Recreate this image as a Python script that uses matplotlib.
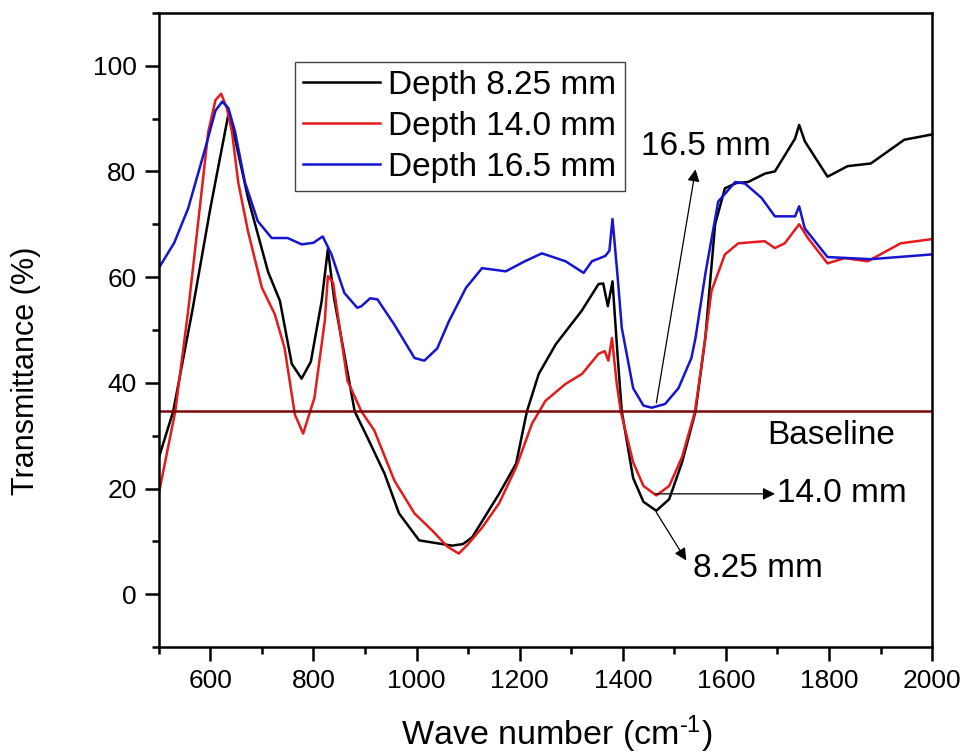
import matplotlib
matplotlib.use("Agg")
import matplotlib.pyplot as plt

plt.rcParams['font.family'] = ['Liberation Sans', 'DejaVu Sans']
plt.rcParams['mathtext.default'] = 'regular'
plt.rcParams['mathtext.fontset'] = 'custom'
plt.rcParams['mathtext.rm'] = 'Liberation Sans'

# ---- data ----
x_825 = [500, 528, 565, 600, 636, 648, 673, 712, 735, 758, 777, 795, 816, 828, 840, 855,
         880, 905, 938, 966, 1005, 1069, 1090, 1108, 1160, 1193, 1214, 1237, 1270, 1320,
         1353, 1362, 1371, 1380, 1390, 1398, 1420, 1440, 1465, 1490, 1515, 1541, 1560,
         1579, 1598, 1620, 1643, 1676, 1695, 1734, 1742, 1753, 1797, 1836, 1881, 1946, 2000]
y_825 = [25.8, 34.6, 53.6, 73.0, 91.3, 86.2, 75.0, 61.0, 55.5, 43.6, 40.8, 44.0, 55.5, 65.3, 56.0, 48.0,
         34.6, 29.6, 22.8, 15.3, 10.2, 9.2, 9.5, 10.8, 19.0, 24.7, 34.6, 41.7, 47.3, 53.6,
         58.7, 58.8, 54.5, 59.2, 45.0, 34.6, 22.0, 17.5, 15.8, 18.0, 25.0, 34.6, 48.5,
         70.0, 76.8, 77.8, 78.0, 79.6, 80.0, 86.2, 88.8, 85.7, 79.0, 81.0, 81.5, 86.0, 87.0]

x_140 = [500, 532, 557, 576, 596, 610, 621, 632, 642, 654, 673, 700, 725, 744, 764, 780, 802,
         822, 828, 838, 847, 866, 893, 918, 957, 996, 1031, 1060, 1082, 1100, 1127, 1160,
         1193, 1224, 1250, 1289, 1321, 1353, 1365, 1372, 1379, 1388, 1396, 1420, 1440, 1465,
         1490, 1515, 1540, 1560, 1572, 1598, 1624, 1675, 1695, 1714, 1742, 1759, 1797, 1830,
         1875, 1939, 2000]
y_140 = [19.0, 34.6, 53.6, 70.0, 87.5, 93.5, 94.7, 92.0, 87.5, 78.0, 68.7, 58.0, 53.0, 46.6, 34.0, 30.4, 37.2,
         51.7, 60.2, 59.0, 53.0, 40.4, 34.6, 31.0, 21.5, 15.3, 12.0, 9.0, 7.7, 9.5, 12.6, 17.2,
         24.0, 32.3, 36.6, 39.8, 41.7, 45.5, 46.0, 44.2, 48.5, 40.0, 34.6, 25.0, 20.5, 18.7,
         20.5, 26.0, 34.6, 48.5, 57.4, 64.3, 66.4, 66.8, 65.5, 66.4, 70.0, 67.4, 62.6, 63.6,
         63.0, 66.4, 67.2]

x_165 = [500, 530, 557, 590, 610, 623, 635, 648, 667, 692, 719, 750, 777, 800, 818, 835, 860,
         885, 893, 910, 924, 957, 996, 1015, 1040, 1063, 1096, 1127, 1173, 1210, 1243, 1289,
         1324, 1340, 1366, 1374, 1380, 1390, 1398, 1420, 1440, 1456, 1482, 1508, 1533, 1541,
         1560, 1585, 1618, 1637, 1669, 1695, 1734, 1742, 1753, 1797, 1881, 2000]
y_165 = [61.7, 66.5, 73.0, 84.3, 91.5, 93.2, 92.0, 87.5, 78.0, 70.6, 67.4, 67.4, 66.2, 66.5, 67.7, 64.3, 57.0,
         54.2, 54.5, 56.0, 55.8, 51.0, 44.7, 44.2, 46.5, 51.7, 58.0, 61.7, 61.1, 63.0, 64.5, 63.0,
         60.8, 63.0, 64.0, 65.0, 71.0, 60.0, 50.4, 39.0, 35.7, 35.3, 36.0, 39.0, 44.7, 48.5,
         60.6, 74.3, 78.0, 77.7, 75.0, 71.5, 71.5, 73.4, 69.2, 63.8, 63.4, 64.3]

baseline = 34.6
labels = ['Depth 8.25 mm', 'Depth 14.0 mm', 'Depth 16.5 mm']
colors = ['#000000', '#e41a1c', '#1414d2']

fig = plt.figure(figsize=(9.68, 7.56), dpi=100)
ax = fig.add_axes([0.164, 0.144, 0.799, 0.839])

ax.plot(x_825, y_825, color=colors[0], lw=1.8, label=labels[0])
ax.plot(x_140, y_140, color=colors[1], lw=1.8, label=labels[1])
ax.plot(x_165, y_165, color=colors[2], lw=1.8, label=labels[2])
ax.axhline(baseline, color='#7a0a0a', lw=1.8)

ax.set_xlim(500, 2000)
ax.set_ylim(-10, 110)
ax.set_xticks([600, 800, 1000, 1200, 1400, 1600, 1800, 2000])
ax.set_xticks(range(500, 2001, 100), minor=True)
ax.set_yticks([0, 20, 40, 60, 80, 100])
ax.set_yticks(range(-10, 111, 10), minor=True)
ax.tick_params(which='major', direction='out', length=10, width=1.8, labelsize=19, pad=6)
ax.tick_params(which='minor', direction='out', length=5, width=1.8)
for s in ax.spines.values():
    s.set_linewidth(1.8)

ax.set_xlabel('Wave number (cm$^{\\text{-1}}$)', fontsize=24.5, va='center')
ax.xaxis.set_label_coords(0.515, -0.137)
ax.set_ylabel('Transmittance (%)', fontsize=22, va='center')
ax.yaxis.set_label_coords(-0.171, 0.435)

leg = ax.legend(loc='upper left', bbox_to_anchor=(0.176, 0.923), fontsize=24,
                frameon=True, fancybox=False, edgecolor='#444444', framealpha=1,
                handlelength=2.3, handletextpad=0.25, labelspacing=0.3,
                borderpad=0.25, borderaxespad=0)
leg.get_frame().set_linewidth(1.0)

arrow = dict(arrowstyle='-|>', color='black', lw=0.9, mutation_scale=18, shrinkA=0, shrinkB=0)
ax.annotate('', xy=(1541, 80.4), xytext=(1465, 36.2), arrowprops=arrow)
ax.text(1436, 84.7, '16.5 mm', fontsize=24, ha='left', va='center')
ax.annotate('', xy=(1695, 19.0), xytext=(1463, 19.0), arrowprops=arrow)
ax.text(1700, 19.0, '14.0 mm', fontsize=24, ha='left', va='center')
ax.annotate('', xy=(1523, 6.4), xytext=(1465, 15.5), arrowprops=arrow)
ax.text(1537, 4.9, '8.25 mm', fontsize=24, ha='left', va='center')
ax.text(1681, 30.0, 'Baseline', fontsize=24, ha='left', va='center')

fig.savefig('out.png', dpi=100)
